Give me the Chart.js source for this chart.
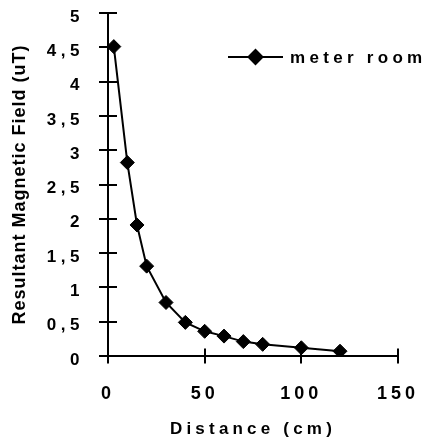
<!DOCTYPE html>
<html>
<head>
<meta charset="utf-8">
<script src="https://cdn.jsdelivr.net/npm/chart.js@4/dist/chart.umd.min.js"></script>
<style>
  html, body { margin: 0; padding: 0; background: #fff; }
  canvas { display: block; }
</style>
</head>
<body>
<canvas id="c" width="432" height="447"></canvas>
<script>
// field strength vs. distance from the meter room
const seriesName = "meter room";
const distances = [3, 10, 15, 20, 30, 40, 50, 60, 70, 80, 100, 120];
const fieldUT = [4.51, 2.82, 1.91, 1.31, 0.78, 0.49, 0.36, 0.29, 0.21, 0.17, 0.12, 0.07];
const xTicks = [0, 50, 100, 150];
const yTicks = [0, 0.5, 1, 1.5, 2, 2.5, 3, 3.5, 4, 4.5, 5];

const FONT = "'Liberation Sans', Arial, sans-serif";
const SPACING = { x: { ticks: 4, title: 4.2 }, y: { ticks: 4.5, title: 1 } };

function spaced(ctx, px, fn) {
  const prev = ctx.letterSpacing;
  ctx.letterSpacing = px + "px";
  fn();
  ctx.letterSpacing = prev || "0px";
}

// Excel-style expanded text on the axes
const spacing = {
  id: "spacing",
  afterLayout(chart) {
    for (const s of Object.values(chart.scales)) {
      if (s._wrapped) continue;
      const sp = SPACING[s.id];
      const lab = s.drawLabels, tit = s.drawTitle;
      s.drawLabels = function (a) { spaced(chart.ctx, sp.ticks, () => lab.call(this, a)); };
      s.drawTitle = function () { spaced(chart.ctx, sp.title, () => tit.call(this)); };
      s._wrapped = true;
    }
  },
};

// tick marks that cross the axis lines
const crossTicks = {
  id: "crossTicks",
  afterDatasetsDraw(chart) {
    const { ctx, scales: { x, y } } = chart;
    ctx.save();
    ctx.strokeStyle = "#000";
    ctx.lineWidth = 2;
    ctx.beginPath();
    for (const v of xTicks) {
      const px = Math.round(x.getPixelForValue(v));
      ctx.moveTo(px, y.bottom - 7.5);
      ctx.lineTo(px, y.bottom + 7.5);
    }
    for (const v of yTicks) {
      const py = Math.round(y.getPixelForValue(v));
      ctx.moveTo(x.left - 9, py);
      ctx.lineTo(x.left + 9, py);
    }
    ctx.stroke();
    ctx.restore();
  },
};

// legend: line with diamond, spaced label to the right
const legendBox = {
  id: "legendBox",
  afterDraw(chart) {
    const { ctx } = chart;
    const ds = chart.data.datasets[0];
    const y0 = 57, x0 = 228, x1 = 283;
    ctx.save();
    ctx.strokeStyle = "#000";
    ctx.lineWidth = 2;
    ctx.beginPath();
    ctx.moveTo(x0, y0);
    ctx.lineTo(x1, y0);
    ctx.stroke();
    ctx.fillStyle = "#000";
    Chart.helpers.drawPoint(ctx, { pointStyle: "rectRot", radius: 7, rotation: 0, borderWidth: 1 }, (x0 + x1) / 2, y0);
    ctx.fill();
    ctx.font = "bold 17px " + FONT;
    ctx.textBaseline = "middle";
    ctx.textAlign = "left";
    spaced(ctx, 4.3, () => ctx.fillText(ds.label, 290, y0 + 1));
    ctx.restore();
  },
};

new Chart(document.getElementById("c"), {
  type: "line",
  data: {
    datasets: [{
      label: seriesName,
      data: distances.map((d, i) => ({ x: d, y: fieldUT[i] })),
      borderColor: "#000",
      backgroundColor: "#000",
      borderWidth: 2,
      pointStyle: "rectRot",
      pointRadius: 7,
      pointBorderWidth: 1,
      tension: 0,
    }],
  },
  options: {
    responsive: false,
    animation: false,
    devicePixelRatio: 1,
    layout: { padding: { left: 0, top: 13, right: 34, bottom: 0 } },
    plugins: { legend: { display: false }, tooltip: { enabled: false } },
    scales: {
      x: {
        type: "linear",
        min: 0, max: 150,
        afterFit: (s) => { s.height = 91; s.paddingLeft = 0; s.paddingRight = 0; },
        afterBuildTicks: (s) => { s.ticks = xTicks.map((v) => ({ value: v })); },
        grid: { display: false },
        border: { display: true, color: "#000", width: 2 },
        ticks: { color: "#000", padding: 19, font: { family: FONT, size: 18, weight: "bold" } },
        title: {
          display: true, text: "Distance (cm)", color: "#000",
          font: { family: FONT, size: 17, weight: "bold" }, padding: { top: 0, bottom: 7 },
        },
      },
      y: {
        type: "linear",
        min: 0, max: 5,
        afterFit: (s) => { s.width = 108; s.paddingTop = 0; s.paddingBottom = 0; },
        afterBuildTicks: (s) => { s.ticks = yTicks.map((v) => ({ value: v })); },
        grid: { display: false },
        border: { display: true, color: "#000", width: 2 },
        ticks: {
          color: "#000", padding: 16, labelOffset: 4,
          font: { family: FONT, size: 17, weight: "bold" },
          callback: (v) => String(Math.round(v * 10) / 10).replace(".", ","),
        },
        title: {
          display: true, text: "Resultant Magnetic Field (uT)", color: "#000",
          font: { family: FONT, size: 18, weight: "bold" }, padding: { top: 9, bottom: 0 },
        },
      },
    },
  },
  plugins: [spacing, crossTicks, legendBox],
});
</script>
</body>
</html>
